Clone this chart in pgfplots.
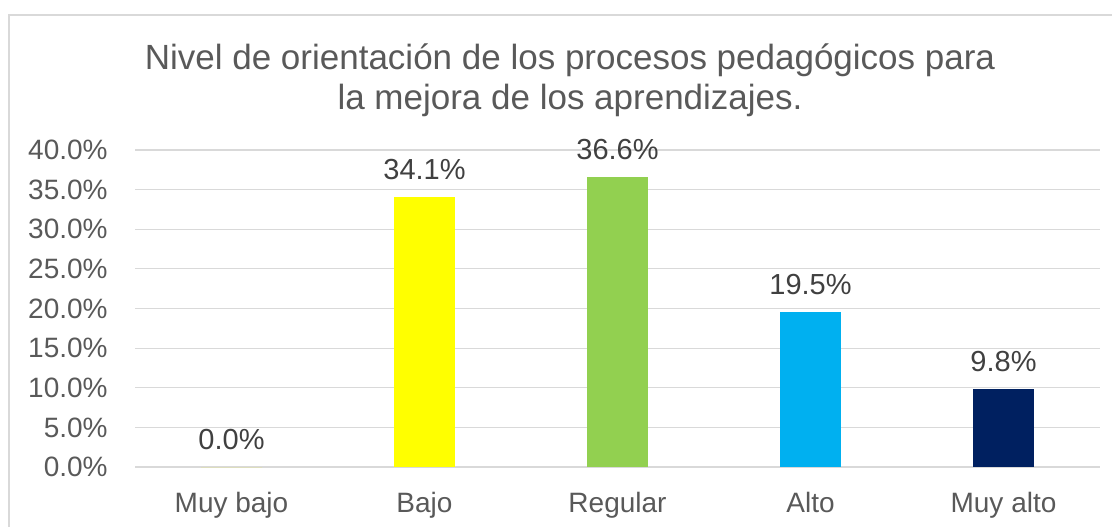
\documentclass[border=0pt]{standalone}
\usepackage{fontspec}
\setmainfont{Liberation Sans}
\usepackage{pgfplots}
\pgfplotsset{compat=1.18}
\definecolor{txt}{HTML}{595959}
\definecolor{lbl}{HTML}{404040}
\definecolor{gridc}{HTML}{D9D9D9}
\definecolor{cyel}{HTML}{FFFF00}
\definecolor{cgrn}{HTML}{92D050}
\definecolor{cblu}{HTML}{00B0F0}
\definecolor{cnav}{HTML}{002060}
\begin{document}
\begin{tikzpicture}
\useasboundingbox (0,0) rectangle (556pt,263pt);
\draw[color=gridc, line width=0.7pt] (4.5pt,-5pt) -- (4.5pt,255.5pt) -- (570pt,255.5pt);
\node[anchor=base, font=\fontsize{17.5pt}{21pt}\selectfont, text=txt, inner sep=0pt] at (285pt,228pt) {Nivel de orientación de los procesos pedagógicos para};
\node[anchor=base, font=\fontsize{17.5pt}{21pt}\selectfont, text=txt, inner sep=0pt] at (285pt,208pt) {la mejora de los aprendizajes.};
\begin{axis}[
  at={(67.5pt,29.5pt)}, anchor=south west,
  scale only axis, width=482.5pt, height=158.5pt,
  xmin=-0.5, xmax=4.5, ymin=0, ymax=40,
  ybar, bar width=30.5pt, bar shift=0pt,
  axis line style={draw=none},
  major tick length=0pt,
  ymajorgrids, grid style={color=gridc, line width=0.6pt},
  ytick={0,5,...,40},
  yticklabel={\pgfmathprintnumber[fixed,fixed zerofill,precision=1]{\tick}\%},
  xtick={0,1,2,3,4},
  xticklabels={Muy bajo,Bajo,Regular,Alto,Muy alto},
  tick label style={font=\fontsize{14pt}{17pt}\selectfont, text=txt, inner sep=0pt},
  /pgf/number format/assume math mode=true,
  yticklabel shift=13.5pt,
  xticklabel shift=12.5pt,
  clip=false,
  nodes near coords={\pgfmathprintnumber[fixed,fixed zerofill,precision=1]{\pgfplotspointmeta}\%},
  every node near coord/.append style={font=\fontsize{14.5pt}{17pt}\selectfont, text=lbl, inner sep=0pt, yshift=8.5pt, /pgf/number format/assume math mode=true},
]
\addplot[fill=cyel, draw=none] coordinates {(0,0.0)};
\addplot[fill=cyel, draw=none] coordinates {(1,34.1)};
\addplot[fill=cgrn, draw=none] coordinates {(2,36.6)};
\addplot[fill=cblu, draw=none] coordinates {(3,19.5)};
\addplot[fill=cnav, draw=none] coordinates {(4,9.8)};
\end{axis}
\end{tikzpicture}
\end{document}
